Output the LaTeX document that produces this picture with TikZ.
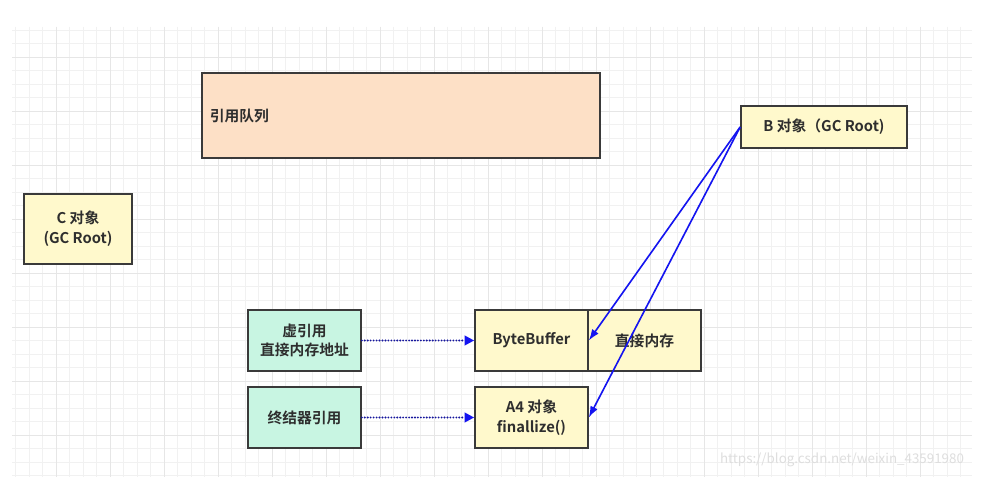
\documentclass[tikz,border=0pt]{standalone}
\usepackage{fontspec}
\setmainfont{Noto Sans CJK SC}[BoldFont={Noto Sans CJK SC Bold}]
\usetikzlibrary{arrows.meta}
\definecolor{gridminor}{HTML}{F1F1F1}
\definecolor{gridmajor}{HTML}{E6E6E6}
\definecolor{boxline}{HTML}{3A3A3A}
\definecolor{textdark}{HTML}{2E2E2E}
\definecolor{objfill}{HTML}{FFF9CC}
\definecolor{reffill}{HTML}{C8F5E2}
\definecolor{queuefill}{HTML}{FDE0C6}
\definecolor{dotblue}{HTML}{16169C}
\definecolor{linkblue}{HTML}{1414F0}

\begin{document}
\begin{tikzpicture}[
		x=0.025cm, y=-0.025cm,
		box/.style={draw=boxline, line width=1.15pt, text=textdark, align=center,
			font=\bfseries\fontsize{10.5}{14}\selectfont, inner sep=0pt},
		objbox/.style={box, fill=objfill, minimum width=2.825cm, minimum height=1.525cm},
		refbox/.style={box, fill=reffill, minimum width=2.825cm, minimum height=1.525cm},
		weakref/.style={dotblue, line width=1.5pt, line cap=round, dash pattern=on 0pt off 2.1pt,
			-{Triangle[length=2.4mm, width=2.4mm, color=linkblue]}},
		strongref/.style={linkblue, line width=1.15pt, -{Latex[length=2.8mm, width=2mm]}}
		]
		
		\useasboundingbox[fill=white] (0,0) rectangle (988,504);
		
		% ==========================================
		% Grid of the canvas
		% ==========================================
		\begin{scope}
			\clip (12,27) rectangle (972,477);
			\foreach \i in {1,...,71}
				\draw[gridminor, line width=0.7pt] (2+13.5*\i,27) -- (2+13.5*\i,477);
			\foreach \j in {1,...,35}
				\draw[gridminor, line width=0.7pt] (12,3+13.5*\j) -- (972,3+13.5*\j);
			\foreach \i in {1,...,17}
				\draw[gridmajor, line width=0.7pt] (2+54*\i,27) -- (2+54*\i,477);
			\foreach \j in {1,...,8}
				\draw[gridmajor, line width=0.7pt] (12,3+54*\j) -- (972,3+54*\j);
		\end{scope}
		
		% ==========================================
		% Roots and the queue
		% ==========================================
		\node[box, fill=queuefill, minimum width=9.95cm, minimum height=2.125cm,
			text width=9.55cm, inner xsep=0.2cm, align=left] (queue) at (401,115.5) {引用队列};
		\node[box, fill=objfill, minimum width=4.15cm, minimum height=1.05cm] (broot) at (824,127) {B 对象（GC Root)};
		\node[box, fill=objfill, minimum width=2.7cm, minimum height=1.75cm] (croot) at (78,229) {C 对象\\(GC Root)};
		
		% ==========================================
		% References and objects
		% ==========================================
		\node[refbox] (phantom) at (304.5,340.5) {虚引用\\直接内存地址};
		\node[refbox] (finalref) at (304.5,417.5) {终结器引用};
		
		\node[objbox] (bytebuf) at (531.5,340.5) {ByteBuffer};
		\node[objbox] (directmem) at (644.5,340.5) {直接内存};
		\node[objbox] (afour) at (531.5,417.5) {A4 对象\\finallize()};
		
		% Links
		\draw[weakref] (phantom) -- (bytebuf);
		\draw[weakref] (finalref) -- (afour);
		\draw[strongref] (broot.west) -- (bytebuf.east);
		\draw[strongref] (broot.west) -- (afour.east);
		
		% watermark
		\node[text=black!13, font=\fontsize{9.5}{12}\selectfont] (mark) at (842,460) {https://blog.csdn.net/weixin\_43591980};
		
	\end{tikzpicture}
\end{document}
